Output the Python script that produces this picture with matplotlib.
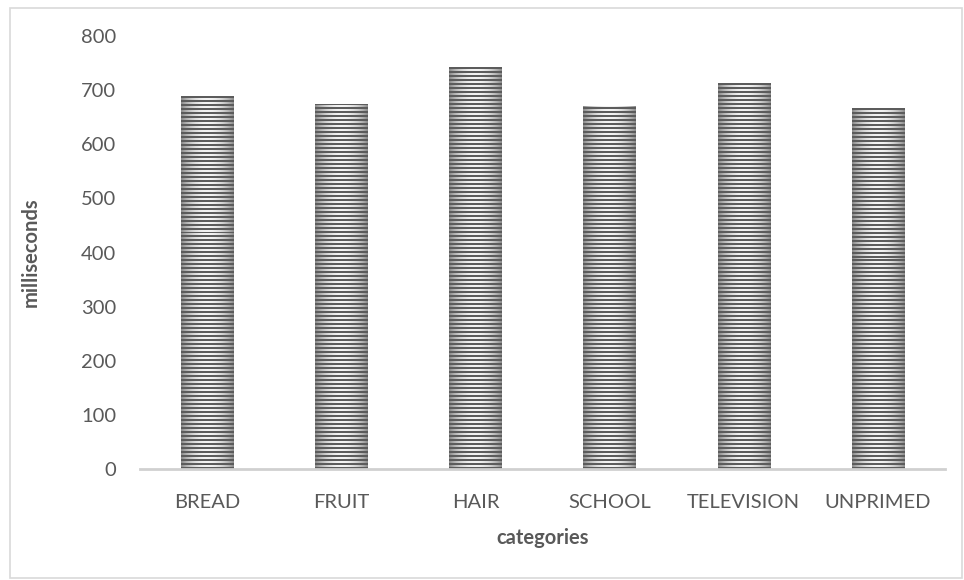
import numpy as np
import matplotlib.pyplot as plt
from matplotlib.patches import Rectangle

categories = ['BREAD', 'FRUIT', 'HAIR', 'SCHOOL', 'TELEVISION', 'UNPRIMED']
values = [689, 675, 743, 671, 714, 667]
yticks = [0, 100, 200, 300, 400, 500, 600, 700, 800]

plt.rcParams['font.family'] = ['Lato', 'DejaVu Sans']
text_color = '#595959'

fig = plt.figure(figsize=(9.64, 5.8), dpi=100)
ax = fig.add_axes([0.1452, 0.1914, 0.8351, 0.7465])

# outer chart border
fig.patches.append(Rectangle((10 / 964, 2 / 580), 952 / 964, 570 / 580, transform=fig.transFigure,
                             fill=False, edgecolor='#d9d9d9', linewidth=1.2))

x = np.arange(len(categories))
width = 0.39
bars = ax.bar(x, values, width=width, color='none', edgecolor='none')

# striped texture: dark rows alternating with light rows shaded lighter toward the centre
ymax = 800
n_rows = int(round(ymax * 0.5413 / 2))
n_cols = 52
u = np.linspace(-1, 1, n_cols)
light = 0.55 + 0.40 * (1 - u ** 2)
tex = np.empty((n_rows, n_cols))
tex[0::2, :] = 0.36
tex[1::2, :] = light

for b in bars:
    x0 = b.get_x()
    im = ax.imshow(tex, cmap='gray', vmin=0, vmax=1, extent=[x0, x0 + b.get_width(), 0, ymax],
                   origin='lower', aspect='auto', interpolation='nearest', zorder=2)
    im.set_clip_path(b)

ax.set_xlim(-0.5, len(categories) - 0.5)
ax.set_ylim(0, 800)
ax.set_yticks(yticks)
ax.set_xticks(x)
ax.set_xticklabels(categories)
ax.tick_params(length=0, labelsize=14.5, colors=text_color)
ax.tick_params(axis='y', pad=17)
ax.tick_params(axis='x', pad=18)
for s in ['top', 'right', 'left']:
    ax.spines[s].set_visible(False)
ax.spines['bottom'].set_color('#d0d0d0')
ax.spines['bottom'].set_linewidth(2)
ax.spines['bottom'].set_zorder(3)

ax.set_ylabel('milliseconds', fontsize=14.5, fontweight='bold', color=text_color, labelpad=29)
ax.set_xlabel('categories', fontsize=14.5, fontweight='bold', color=text_color, labelpad=12)

fig.savefig('out.png', dpi=100)
